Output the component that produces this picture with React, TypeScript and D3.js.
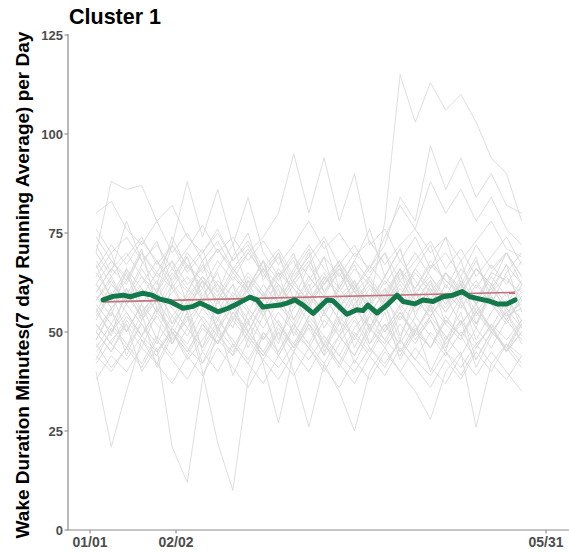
import React from "react";
import * as d3 from "d3";

// ---- data ----
const title = "Cluster 1";
const yLabel = "Wake Duration Minutes(7 day Running Average) per Day";
const yTicks = [0, 25, 50, 75, 100, 125];
const xTickDays = [0, 28.3, 150];
const xTickLabels = ["01/01", "02/02", "05/31"];

// individual series sampled every 5 days starting at day 2
const sampleStartDay = 2;
const sampleStep = 5;

const p01 = [62, 58, 65, 55, 60, 68, 57, 63, 59, 66, 61, 55, 64, 70, 58, 62, 67, 60, 57, 78, 115, 103, 113, 106, 110, 103, 94, 90, 78];
const p02 = [58, 63, 57, 61, 55, 60, 64, 58, 62, 56, 61, 66, 59, 63, 57, 62, 68, 61, 66, 72, 84, 78, 97, 86, 94, 84, 90, 82, 80];
const p03 = [70, 88, 86, 87, 78, 82, 74, 70, 76, 68, 72, 65, 70, 63, 68, 62, 66, 60, 64, 58, 66, 61, 68, 63, 60, 66, 62, 70, 64];
const p04 = [55, 62, 58, 66, 60, 72, 88, 74, 86, 72, 84, 70, 64, 68, 60, 65, 58, 62, 55, 60, 66, 58, 63, 57, 62, 55, 60, 64, 58];
const p05 = [60, 66, 62, 70, 64, 68, 62, 66, 71, 65, 70, 74, 80, 95, 80, 94, 78, 90, 72, 76, 68, 74, 66, 70, 64, 72, 66, 70, 62];
const p06 = [40, 21, 35, 48, 42, 50, 45, 52, 47, 55, 49, 44, 51, 46, 53, 48, 42, 50, 45, 52, 47, 54, 49, 44, 50, 46, 52, 48, 53];
const p07 = [50, 45, 52, 40, 46, 21, 12, 38, 50, 44, 55, 48, 53, 46, 51, 44, 49, 54, 47, 52, 45, 50, 56, 48, 53, 47, 51, 45, 50];
const p08 = [48, 55, 50, 57, 52, 47, 54, 40, 22, 10, 38, 50, 45, 52, 47, 55, 49, 44, 52, 48, 55, 50, 46, 53, 49, 55, 50, 46, 52];
const p09 = [55, 50, 57, 52, 47, 54, 49, 56, 51, 46, 53, 42, 27, 45, 52, 47, 54, 49, 44, 51, 56, 48, 53, 47, 52, 57, 50, 55, 49];
const p10 = [52, 47, 54, 49, 56, 50, 45, 52, 47, 54, 49, 44, 50, 40, 26, 42, 35, 25, 40, 46, 52, 47, 54, 49, 44, 51, 46, 53, 48];
const p11 = [46, 52, 47, 42, 49, 44, 51, 46, 53, 48, 43, 50, 45, 52, 47, 42, 49, 44, 51, 46, 40, 35, 28, 40, 45, 26, 42, 47, 44];
const p12 = [44, 40, 46, 41, 48, 43, 38, 45, 40, 47, 42, 37, 44, 39, 46, 41, 36, 43, 38, 45, 40, 46, 41, 37, 44, 39, 45, 40, 35];
const p13 = [62, 68, 64, 59, 65, 61, 67, 63, 58, 64, 60, 66, 62, 57, 63, 69, 64, 70, 66, 74, 82, 76, 88, 80, 86, 78, 84, 76, 72];
const p14 = [80, 83, 76, 72, 78, 70, 75, 68, 73, 66, 71, 64, 69, 62, 67, 60, 65, 58, 63, 57, 62, 56, 61, 55, 60, 54, 59, 53, 58];
const p15 = [58, 64, 57, 62, 68, 61, 55, 63, 58, 65, 60, 54, 62, 57, 64, 59, 53, 61, 56, 63, 58, 65, 60, 55, 62, 57, 64, 59, 61];
const p16 = [50, 45, 53, 48, 44, 51, 47, 54, 49, 45, 52, 48, 55, 50, 46, 53, 49, 56, 51, 47, 54, 50, 57, 52, 48, 55, 51, 58, 53];
const p17 = [66, 72, 67, 73, 68, 63, 70, 65, 71, 66, 61, 68, 63, 69, 64, 59, 66, 61, 67, 62, 68, 63, 58, 65, 60, 66, 61, 67, 62];
const p18 = [42, 48, 52, 46, 55, 50, 44, 51, 47, 53, 48, 43, 50, 45, 52, 47, 41, 49, 54, 48, 44, 51, 46, 53, 49, 43, 50, 55, 47];
const p19 = [62, 56, 60, 54, 58, 52, 57, 61, 55, 59, 53, 58, 62, 56, 60, 55, 59, 63, 57, 61, 56, 60, 64, 58, 62, 57, 61, 56, 60];
const p20 = [70, 64, 69, 74, 67, 72, 65, 70, 75, 68, 73, 66, 71, 64, 69, 74, 67, 72, 65, 70, 63, 68, 73, 66, 71, 64, 69, 74, 67];
const p21 = [54, 60, 55, 49, 56, 51, 58, 53, 47, 55, 50, 57, 52, 46, 54, 59, 53, 48, 55, 50, 57, 52, 46, 54, 49, 56, 51, 45, 52];
const p22 = [47, 41, 46, 52, 45, 50, 43, 48, 54, 47, 42, 49, 44, 51, 46, 40, 47, 53, 46, 41, 48, 43, 50, 45, 39, 46, 52, 45, 50];
const p23 = [74, 68, 63, 70, 65, 72, 67, 61, 68, 63, 70, 65, 59, 66, 72, 66, 61, 68, 63, 57, 64, 70, 64, 59, 66, 61, 67, 62, 68];
const p24 = [57, 52, 59, 54, 61, 56, 51, 58, 53, 60, 55, 62, 57, 52, 59, 54, 61, 56, 51, 58, 53, 60, 55, 62, 57, 52, 59, 54, 56];
const p25 = [38, 44, 40, 46, 42, 37, 44, 39, 46, 41, 36, 43, 38, 45, 40, 47, 42, 37, 44, 39, 46, 41, 36, 43, 38, 45, 40, 47, 42];
const p26 = [65, 59, 66, 61, 55, 62, 58, 64, 60, 56, 63, 59, 65, 61, 57, 64, 60, 66, 62, 58, 65, 61, 67, 63, 59, 66, 62, 57, 63];
const p27 = [50, 56, 61, 55, 60, 54, 59, 64, 57, 62, 56, 51, 58, 53, 60, 55, 50, 57, 62, 56, 61, 55, 60, 65, 58, 63, 57, 52, 59];
const p28 = [76, 70, 74, 68, 72, 66, 71, 77, 70, 74, 68, 73, 67, 72, 78, 71, 75, 69, 73, 67, 72, 76, 70, 74, 68, 73, 78, 71, 69];
const p29 = [45, 50, 55, 49, 54, 48, 53, 58, 51, 56, 50, 45, 52, 47, 54, 49, 44, 51, 56, 50, 55, 49, 54, 59, 52, 57, 51, 46, 53];
const p30 = [60, 66, 70, 64, 58, 65, 60, 67, 62, 57, 64, 59, 66, 61, 56, 63, 68, 62, 57, 64, 59, 66, 61, 56, 63, 58, 65, 70, 64];
const p31 = [52, 47, 43, 49, 45, 51, 46, 42, 48, 44, 50, 45, 41, 47, 43, 49, 44, 40, 46, 42, 48, 43, 39, 45, 41, 47, 42, 38, 44];
const p32 = [68, 62, 58, 64, 60, 66, 61, 57, 63, 59, 65, 60, 56, 62, 58, 64, 59, 55, 61, 57, 63, 58, 54, 60, 56, 62, 57, 53, 59];
const p33 = [56, 49, 61, 53, 58, 47, 55, 63, 50, 57, 52, 60, 48, 56, 62, 51, 58, 46, 54, 61, 49, 57, 63, 52, 59, 48, 55, 60, 51];
const p34 = [64, 70, 59, 67, 73, 62, 69, 58, 66, 72, 61, 68, 57, 65, 71, 60, 67, 56, 64, 70, 59, 66, 72, 61, 68, 57, 65, 63, 60];
const p35 = [43, 51, 46, 55, 41, 49, 57, 45, 52, 39, 48, 56, 44, 51, 58, 46, 53, 42, 50, 57, 45, 52, 40, 48, 55, 43, 50, 46, 41];
const p36 = [59, 54, 66, 57, 63, 52, 60, 68, 55, 62, 50, 58, 65, 53, 61, 69, 56, 63, 51, 59, 66, 54, 62, 57, 64, 52, 60, 67, 55];
const p37 = [72, 65, 78, 68, 62, 74, 66, 71, 60, 69, 75, 63, 70, 58, 67, 73, 61, 68, 76, 64, 71, 59, 66, 74, 62, 69, 57, 65, 70];
const p38 = [48, 56, 44, 53, 60, 47, 55, 42, 51, 58, 46, 54, 61, 49, 57, 45, 52, 59, 47, 55, 43, 50, 57, 46, 53, 41, 49, 56, 51];
const p39 = [53, 60, 50, 57, 48, 62, 55, 46, 58, 51, 63, 54, 47, 59, 52, 44, 56, 61, 50, 57, 48, 60, 53, 45, 58, 51, 62, 55, 57];
const p40 = [67, 58, 63, 71, 56, 64, 69, 59, 65, 53, 61, 68, 57, 63, 70, 55, 62, 67, 58, 64, 71, 60, 56, 65, 61, 68, 59, 54, 62];

const participants = [p01, p02, p03, p04, p05, p06, p07, p08, p09, p10, p11, p12, p13, p14, p15, p16,
  p17, p18, p19, p20, p21, p22, p23, p24, p25, p26, p27, p28, p29, p30, p31, p32,
  p33, p34, p35, p36, p37, p38, p39, p40];

// cluster mean (green)
const meanDays = [4.3, 7.6, 10.9, 13.2, 17.4, 20.4, 23.0, 26.3, 30.6, 33.6, 36.2, 38.8, 42.1, 45.4, 48.4, 52.6,
  54.9, 56.9, 59.9, 62.5, 64.8, 67.4, 70.1, 73.4, 75.7, 78.0, 79.9, 84.5, 87.8, 89.8, 91.4, 94.4, 97.7,
  101.0, 103.0, 106.9, 109.5, 112.8, 116.1, 119.4, 122.4, 125.0, 128.3, 130.9, 133.9, 137.2, 139.8];
const meanValues = [58.1, 59.0, 59.3, 58.9, 59.8, 59.3, 58.3, 57.7, 56.0, 56.4, 57.3, 56.4, 55.1, 56.0, 57.1, 58.8,
  58.1, 56.3, 56.6, 56.8, 57.3, 58.1, 56.8, 54.7, 56.4, 58.1, 57.9, 54.5, 55.6, 55.4, 56.8, 54.8, 56.8,
  59.3, 57.7, 57.1, 58.1, 57.7, 58.9, 59.3, 60.2, 58.9, 58.3, 57.9, 57.1, 57.1, 58.1];

// linear trend (red)
const trendDays = [4.3, 139.8];
const trendValues = [57.6, 60.0];

export default function App() {
  const W = 569, H = 552;
  const x = d3.scaleLinear().domain([0, 150]).range([90, 546]);
  const y = d3.scaleLinear().domain([0, 125]).range([530, 35]);
  const axisX0 = 68;
  const axisColor = "#8c8c8c";
  const font = "'Liberation Sans', Arial, sans-serif";

  const line = d3.line<[number, number]>().x(d => x(d[0])).y(d => y(d[1]));

  const grayPaths = participants.map(vals =>
    line(vals.map((v, i) => [sampleStartDay + i * sampleStep, v] as [number, number]))
  );
  const meanPath = line(meanDays.map((d, i) => [d, meanValues[i]] as [number, number]));
  const trendPath = line(trendDays.map((d, i) => [d, trendValues[i]] as [number, number]));

  return (
    <svg width={W} height={H} style={{ position: "absolute", left: 0, top: 0, background: "#fff" }}
      fontFamily={font}>
      <g fill="none" stroke="#d8d8d8" strokeWidth={0.85} strokeLinejoin="round">
        {grayPaths.map((p, i) => <path key={i} d={p || ""} />)}
      </g>
      <path d={trendPath || ""} fill="none" stroke="#c4737d" strokeWidth={1.6} />
      <path d={meanPath || ""} fill="none" stroke="#13794a" strokeWidth={5}
        strokeLinejoin="round" strokeLinecap="round" />

      {/* axes */}
      <line x1={axisX0} x2={axisX0} y1={y(125) - 1} y2={y(0) + 0.5} stroke={axisColor} strokeWidth={1.2} />
      <line x1={axisX0} x2={W} y1={y(0)} y2={y(0)} stroke={axisColor} strokeWidth={1.2} />
      {yTicks.map(t => (
        <g key={t}>
          <line x1={axisX0 - 3.5} x2={axisX0} y1={y(t)} y2={y(t)} stroke={axisColor} strokeWidth={1.1} />
          <text x={axisX0 - 5} y={y(t)} dy="0.35em" textAnchor="end" fontSize={13}
            fontWeight="bold" fill="#4d4d4d">{t}</text>
        </g>
      ))}
      {xTickDays.map((d, i) => (
        <g key={i}>
          <line x1={x(d)} x2={x(d)} y1={y(0)} y2={y(0) + 3.5} stroke={axisColor} strokeWidth={1.1} />
          <text x={x(d)} y={547} textAnchor="middle" fontSize={14} fontWeight="bold"
            fill="#4d4d4d">{xTickLabels[i]}</text>
        </g>
      ))}

      <text x={69} y={24} fontSize={21.5} fontWeight="bold" fill="#000">{title}</text>
      <text transform="translate(29,285) rotate(-90)" textAnchor="middle" fontSize={19}
        fontWeight="bold" fill="#000">{yLabel}</text>
    </svg>
  );
}
